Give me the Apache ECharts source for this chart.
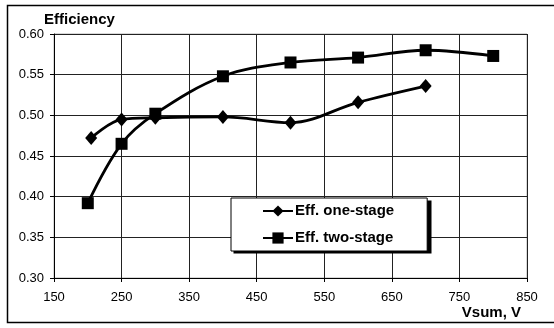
<!DOCTYPE html>
<html>
<head>
<meta charset="utf-8">
<script src="https://cdn.jsdelivr.net/npm/echarts@6/dist/echarts.min.js"></script>
<style>
  html, body { margin: 0; padding: 0; background: #fff; }
  #chart { width: 554px; height: 328px; }
</style>
</head>
<body>
<div id="chart"></div>
<script>
// values
const oneStageV = [205, 250, 300, 400, 500, 600, 700]
const oneStageEff = [0.472, 0.495, 0.497, 0.498, 0.491, 0.516, 0.536]
const twoStageV = [200, 250, 300, 400, 500, 600, 700, 800]
const twoStageEff = [0.392, 0.465, 0.502, 0.548, 0.565, 0.571, 0.580, 0.573]

const font = 'Arial, "Liberation Sans", sans-serif'

const chart = echarts.init(document.getElementById('chart'))

function pairs (xs, ys) {
  return xs.map((x, i) => [x, ys[i]])
}

chart.setOption({
  animation: false,
  backgroundColor: '#fff',
  title: {
    text: 'Efficiency',
    left: 44,
    top: 12,
    padding: 0,
    textStyle: { fontFamily: font, fontSize: 15, fontWeight: 'bold', color: '#000' }
  },
  graphic: [{
    // chart-area frame
    type: 'rect',
    shape: { x: 7.5, y: 5.5, width: 560, height: 317 },
    style: { fill: null, stroke: '#000', lineWidth: 1.5 },
    silent: true
  }, {
    // legend drop shadow
    type: 'rect',
    z: 3,
    shape: { x: 233.5, y: 200.5, width: 198, height: 53 },
    style: { fill: '#000' },
    silent: true
  }],
  grid: {
    left: 54,
    right: 27,
    top: 34,
    bottom: 50,
    show: true,
    borderColor: '#b0b0b0',
    borderWidth: 1
  },
  legend: {
    left: 231,
    top: 198,
    orient: 'vertical',
    itemWidth: 30,
    itemHeight: 14,
    itemGap: 11,
    padding: [5, 33, 5, 31],
    backgroundColor: '#fff',
    borderColor: '#000',
    borderWidth: 1,
    textStyle: {
      fontFamily: font, fontSize: 15, fontWeight: 'bold', color: '#000',
      lineHeight: 16, padding: [0, 0, 0, -3]
    },
    data: ['Eff. one-stage', 'Eff. two-stage']
  },
  xAxis: {
    type: 'value',
    min: 150,
    max: 850,
    interval: 100,
    name: 'Vsum, V',
    nameLocation: 'end',
    nameGap: -6,
    nameTextStyle: {
      fontFamily: font, fontSize: 15, fontWeight: 'bold', color: '#000',
      align: 'right', verticalAlign: 'top', padding: [27, 0, 0, 0]
    },
    axisLine: { show: true, lineStyle: { color: '#000', width: 1 } },
    axisTick: { show: true, length: 4, lineStyle: { color: '#000' } },
    axisLabel: { fontFamily: font, fontSize: 13, color: '#000', margin: 13 },
    splitLine: { show: true, lineStyle: { color: '#222', width: 1 } }
  },
  yAxis: {
    type: 'value',
    min: 0.3,
    max: 0.6,
    interval: 0.05,
    axisLine: { show: true, lineStyle: { color: '#000', width: 1 } },
    axisTick: { show: true, length: 4, lineStyle: { color: '#000' } },
    axisLabel: {
      fontFamily: font, fontSize: 13, color: '#000', margin: 10,
      formatter: v => v.toFixed(2)
    },
    splitLine: { show: true, lineStyle: { color: '#222', width: 1 } }
  },
  series: [{
    name: 'Eff. one-stage',
    type: 'line',
    smooth: 0.35,
    data: pairs(oneStageV, oneStageEff),
    symbol: 'diamond',
    symbolSize: [12, 14],
    lineStyle: { color: '#000', width: 2.8 },
    itemStyle: { color: '#000', borderWidth: 0 }
  }, {
    name: 'Eff. two-stage',
    type: 'line',
    smooth: 0.35,
    data: pairs(twoStageV, twoStageEff),
    symbol: 'rect',
    symbolSize: 12,
    lineStyle: { color: '#000', width: 2.8 },
    itemStyle: { color: '#000', borderWidth: 0 }
  }]
})
</script>
</body>
</html>
